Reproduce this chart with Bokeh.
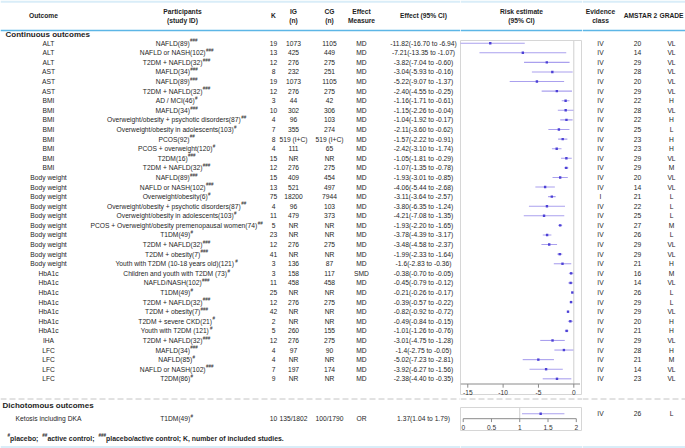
from bokeh.plotting import figure
from bokeh.layouts import row, column
from bokeh.models import Range1d
from bokeh.core.properties import value
from bokeh.embed import file_html
from bokeh.resources import INLINE

# ---------------- data ----------------
outcomes = (["ALT"] * 3 + ["AST"] * 3 + ["BMI"] * 8 + ["Body weight"] * 10 +
            ["HbA1c"] * 7 + ["IHA"] + ["LFC"] * 4)
participants = [
    "NAFLD(89)", "NAFLD or NASH(102)", "T2DM + NAFLD(32)",
    "MAFLD(34)", "NAFLD(89)", "T2DM + NAFLD(32)",
    "AD / MCI(46)", "MAFLD(34)", "Overweight/obesity + psychotic disorders(87)",
    "Overweight/obesity in adolescents(103)", "PCOS(92)", "PCOS + overweight(120)",
    "T2DM(16)", "T2DM + NAFLD(32)",
    "NAFLD(89)", "NAFLD or NASH(102)", "Overweight/obesity(6)",
    "Overweight/obesity + psychotic disorders(87)", "Overweight/obesity in adolescents(103)",
    "PCOS + Overweight/obesity premenopausal women(74)", "T1DM(49)", "T2DM + NAFLD(32)",
    "T2DM + obesity(7)", "Youth with T2DM (10-18 years old)(121)",
    "Children and youth with T2DM (73)", "NAFLD/NASH(102)", "T1DM(49)", "T2DM + NAFLD(32)",
    "T2DM + obesity(7)", "T2DM + severe CKD(21)", "Youth with T2DM (121)",
    "T2DM + NAFLD(32)",
    "MAFLD(34)", "NAFLD(85)", "NAFLD or NASH(102)", "T2DM(86)",
]
control_marks = [
    "###", "###", "###", "###", "###", "###",
    "#", "###", "##", "#", "##", "#", "###", "###",
    "###", "###", "#", "##", "#", "##", "#", "###", "###", "#",
    "#", "###", "#", "###", "###", "#", "#",
    "###",
    "###", "#", "###", "#",
]
k_vals = [19, 13, 12, 8, 19, 12, 3, 10, 4, 7, 8, 4, 15, 12, 15, 13, 75, 4, 11, 5,
          23, 12, 41, 3, 3, 11, 25, 12, 42, 2, 5, 12, 4, 4, 7, 9]
ig_n = ["1073", "425", "276", "232", "1073", "276", "44", "302", "96", "355", "519 (I+C)",
        "111", "NR", "276", "409", "521", "18200", "96", "479", "NR", "NR", "276", "NR",
        "136", "158", "458", "NR", "276", "NR", "NR", "260", "276", "97", "NR", "197", "NR"]
cg_n = ["1105", "449", "275", "251", "1105", "275", "42", "306", "103", "274", "519 (I+C)",
        "65", "NR", "275", "454", "497", "7944", "103", "373", "NR", "NR", "275", "NR",
        "87", "117", "458", "NR", "275", "NR", "NR", "155", "275", "90", "NR", "174", "NR"]
measures = ["MD"] * 24 + ["SMD"] + ["MD"] * 11
est = ["-11.82", "-7.21", "-3.82", "-3.04", "-5.22", "-2.40", "-1.16", "-1.15", "-1.04",
       "-2.11", "-1.57", "-2.42", "-1.05", "-1.07", "-1.93", "-4.06", "-3.11", "-3.80",
       "-4.21", "-1.93", "-3.78", "-3.48", "-1.99", "-1.6", "-0.38", "-0.45", "-0.21",
       "-0.39", "-0.82", "-0.49", "-1.01", "-3.01", "-1.4", "-5.02", "-3.92", "-2.38"]
lo = ["-16.70", "-13.35", "-7.04", "-5.93", "-9.07", "-4.55", "-1.71", "-2.26", "-1.92",
      "-3.60", "-2.22", "-3.10", "-1.81", "-1.35", "-3.01", "-5.44", "-3.64", "-6.35",
      "-7.08", "-2.20", "-4.39", "-4.58", "-2.33", "-2.83", "-0.70", "-0.79", "-0.26",
      "-0.57", "-0.92", "-0.84", "-1.26", "-4.75", "-2.75", "-7.23", "-6.27", "-4.40"]
hi = ["-6.94", "-1.07", "-0.60", "-0.16", "-1.37", "-0.25", "-0.61", "-0.04", "-0.17",
      "-0.62", "-0.91", "-1.74", "-0.29", "-0.78", "-0.85", "-2.68", "-2.57", "-1.24",
      "-1.35", "-1.65", "-3.17", "-2.37", "-1.64", "-0.36", "-0.05", "-0.12", "-0.17",
      "-0.22", "-0.72", "-0.15", "-0.76", "-1.28", "-0.05", "-2.81", "-1.56", "-0.35"]
evidence = ["IV"] * 16 + ["I"] + ["IV"] * 19
amstar = [20, 14, 29, 28, 20, 29, 22, 28, 22, 25, 23, 23, 29, 29, 20, 14, 21, 22, 25, 27,
          26, 29, 29, 21, 16, 14, 26, 29, 29, 20, 21, 29, 28, 21, 14, 23]
grade = ["VL", "VL", "VL", "VL", "VL", "VL", "H", "VL", "H", "L", "H", "H", "VL", "M",
         "VL", "VL", "L", "L", "L", "M", "L", "VL", "VL", "H", "M", "VL", "L", "L", "VL",
         "H", "H", "VL", "H", "M", "VL", "VL"]

dich_outcome = ["Ketosis including DKA"]
dich_participants = ["T1DM(49)"]
dich_marks = ["#"]
dich_k = [10]
dich_ig = ["135/1802"]
dich_cg = ["100/1790"]
dich_measure = ["OR"]
dich_est = ["1.37"]
dich_lo = ["1.04"]
dich_hi = ["1.79"]
dich_evidence = ["IV"]
dich_amstar = [26]
dich_grade = ["L"]

cont_ticks = [-15, -10, -5, 0]
dich_ticks = [0, 0.5, 1, 1.5, 2]

header_cols = ["Outcome", "Participants\n(study ID)", "K", "IG\n(n)", "CG\n(n)",
               "Effect\nMeasure", "Effect (95% CI)"]
right_headers = ["Evidence\nclass", "AMSTAR 2", "GRADE"]
footnote = [("#", True), (" placebo; ", False), ("##", True), (" active control; ", False),
            ("###", True), (" placebo/active control; K, number of included studies.", False)]

# ---------------- styling / layout ----------------
FONT = "Liberation Sans"
TXT = "#1e1e1e"
BLUE = "#5cb6e6"
BAND = "#d9edf8"
DASH = "#c4c4c4"
BOX = "#d6d6d6"
CI_COL = "#aaa0ee"
PT_COL = "#4c40d6"
FS = 6.7      # body font px
SUP = 4.5     # superscript px
ROW0 = 42.7
ROWH = 9.589
W, H = 685, 448
XL, XM = 460, 582          # left/mid and mid/right borders

REG = {" ": 278, "!": 278, "#": 556, "(": 333, ")": 333, "+": 584, ",": 278, "-": 333,
       ".": 278, "/": 278, ":": 278, ";": 278}
for ch in "0123456789":
    REG[ch] = 556
REG.update(dict(zip("ABCDEFGHIJKLMNOPQRSTUVWXYZ",
                    [667, 667, 722, 722, 667, 611, 778, 722, 278, 500, 667, 556, 833,
                     722, 778, 667, 778, 722, 667, 611, 722, 667, 944, 667, 667, 611])))
REG.update(dict(zip("abcdefghijklmnopqrstuvwxyz",
                    [556, 556, 500, 556, 556, 278, 556, 556, 222, 222, 500, 222, 833,
                     556, 556, 556, 556, 333, 500, 278, 556, 500, 722, 500, 500, 500])))
BLD = dict(REG)
BLD.update({";": 333, "K": 722})
BLD.update(dict(zip("abcdefghijklmnopqrstuvwxyz",
                    [556, 611, 556, 611, 556, 333, 611, 611, 278, 278, 556, 278, 889,
                     611, 611, 611, 611, 389, 556, 333, 611, 556, 778, 556, 556, 500])))


def tw(s, size, bold=False):
    tab = BLD if bold else REG
    return sum(tab.get(c, 556) for c in s) / 1000.0 * size


def mkfig(w, h, xr, yr, outline=None):
    p = figure(width=w, height=h, x_range=xr, y_range=yr, toolbar_location=None,
               output_backend="svg", x_axis_type=None, y_axis_type=None, min_border=0,
               background_fill_color="white", border_fill_color="white")
    p.outline_line_color = outline
    p.grid.visible = False
    return p


def txt(p, xs, ys, texts, size=FS, bold=False, align="center", color=TXT):
    p.text(x=xs, y=ys, text=texts, text_font=value(FONT),
           text_font_size=value(f"{size}px"),
           text_font_style="bold" if bold else "normal",
           text_align=align, text_baseline="middle", text_color=color)


def bands(p, x0, x1, top=True, bottom=True):
    if top:
        p.quad(left=[x0], right=[x1], top=[0], bottom=[2.2], fill_color=BAND, line_color=None)
    if bottom:
        p.quad(left=[x0], right=[x1], top=[445.5], bottom=[H], fill_color=BAND,
               line_color=None)


n = len(outcomes)
row_y = [ROW0 + ROWH * i for i in range(n)]

# ---------------- left table ----------------
L = mkfig(XL, H, Range1d(0, XL), Range1d(H, 0))
bands(L, 0, XL)
L.segment(x0=[0], y0=[30], x1=[XL], y1=[30], line_color=BLUE, line_width=1.3)
L.segment(x0=[0], y0=[398.5], x1=[XL], y1=[398.5], line_color=DASH, line_width=1,
          line_dash="6 3")

col_x = [43, 182, 273, 293, 329, 361, 423]
for cx, h in zip(col_x, header_cols):
    parts = h.split("\n")
    if len(parts) == 1:
        txt(L, [cx], [15.3], parts, bold=True)
    else:
        txt(L, [cx, cx], [11.2, 20.4], parts, bold=True)

txt(L, [5], [34.3], ["Continuous outcomes"], size=8, bold=True, align="left")
txt(L, [2], [405], ["Dichotomous outcomes"], size=8, bold=True, align="left")

OUT_X, PART_X = 48, 176
txt(L, [OUT_X] * n, row_y, outcomes)


def draw_participants(p, labels, marks, ys, cx):
    mx, sx, sy = [], [], []
    for lab, mk, y in zip(labels, marks, ys):
        wm = tw(lab, FS)
        total = wm + tw(mk, SUP)
        x0 = cx - total / 2
        mx.append(x0)
        sx.append(x0 + wm + 0.2)
        sy.append(y - 2.3)
    txt(p, mx, ys, labels, align="left")
    txt(p, sx, sy, marks, size=SUP, align="left")


draw_participants(L, participants, control_marks, row_y, PART_X)
txt(L, [273] * n, row_y, [str(k) for k in k_vals])
txt(L, [293] * n, row_y, ig_n)
txt(L, [329] * n, row_y, cg_n)
txt(L, [361] * n, row_y, measures)
txt(L, [423] * n, row_y, [f"{e}({a} to {b})" for e, a, b in zip(est, lo, hi)])

DY = 418.0
txt(L, [OUT_X], [DY], dich_outcome)
draw_participants(L, dich_participants, dich_marks, [DY], PART_X)
txt(L, [273], [DY], [str(k) for k in dich_k])
txt(L, [293], [DY], dich_ig)
txt(L, [329], [DY], dich_cg)
txt(L, [361], [DY], dich_measure)
txt(L, [423], [DY], [f"{e}({a} to {b})" for e, a, b in zip(dich_est, dich_lo, dich_hi)])

# footnote with superscript marks
FN = 6.9
FSUP = 4.6
fx = 7.0
fxs_m, fys_m, ftx_m, fxs_s, fys_s, ftx_s = [], [], [], [], [], []
for seg, is_sup in footnote:
    if is_sup:
        fxs_s.append(fx); fys_s.append(435.3); ftx_s.append(seg)
        fx += tw(seg, FSUP, True)
    else:
        fxs_m.append(fx); fys_m.append(437.7); ftx_m.append(seg)
        fx += tw(seg, FN, True)
txt(L, fxs_m, fys_m, ftx_m, size=FN, bold=True, align="left")
txt(L, fxs_s, fys_s, ftx_s, size=FSUP, bold=True, align="left")

# ---------------- middle (forest plots) ----------------
MW = XM - XL
top_mid = mkfig(MW, 40, Range1d(XL, XM), Range1d(40, 0))
bands(top_mid, XL, XM, bottom=False)
top_mid.segment(x0=[XL], y0=[30], x1=[XM], y1=[30], line_color=BLUE, line_width=1.3)
txt(top_mid, [521, 521], [11.2, 20.4], ["Risk estimate", "(95% CI)"], bold=True)

# continuous forest: y in row-index units
top_r = (40 - ROW0) / ROWH
bot_r = (395 - ROW0) / ROWH
axis_r = (383.5 - ROW0) / ROWH
tick_r = (387.2 - ROW0) / ROWH
lab_r = (391.8 - ROW0) / ROWH
F = mkfig(MW, 355, Range1d(-16.03, 1.23), Range1d(bot_r, top_r), outline=BOX)
idx = list(range(n))
F.segment(x0=[0], y0=[top_r], x1=[0], y1=[axis_r], line_color="#cfcfcf", line_width=1)
F.segment(x0=[float(v) for v in lo], y0=idx, x1=[float(v) for v in hi], y1=idx,
          line_color=CI_COL, line_width=1.1)
F.scatter(x=[float(v) for v in est], y=idx, marker="square", size=2.4,
          fill_color=PT_COL, line_color=None)
F.segment(x0=[F.x_range.start], y0=[axis_r], x1=[F.x_range.end - 0.35], y1=[axis_r],
          line_color="#8a8a8a", line_width=1)
F.segment(x0=cont_ticks, y0=[axis_r] * len(cont_ticks), x1=cont_ticks,
          y1=[tick_r] * len(cont_ticks), line_color="#8a8a8a", line_width=1)
txt(F, cont_ticks, [lab_r] * len(cont_ticks), [f"{t:g}" for t in cont_ticks],
    size=6.6, color="#333333")

gap_mid = mkfig(MW, 12, Range1d(XL, XM), Range1d(407, 395))
gap_mid.segment(x0=[XL], y0=[398.5], x1=[XM], y1=[398.5], line_color=DASH,
                line_width=1, line_dash="6 3")

# dichotomous forest
D0 = 413.3
d_top = (407 - D0) / ROWH
d_bot = (431 - D0) / ROWH
d_axis = (418.2 - D0) / ROWH
d_tick = (421.6 - D0) / ROWH
d_lab = (426.8 - D0) / ROWH
Dp = mkfig(MW, 24, Range1d(-0.048, 2.11), Range1d(d_bot, d_top), outline=BOX)
Dp.segment(x0=[1], y0=[d_top], x1=[1], y1=[d_axis], line_color="#cfcfcf", line_width=1)
Dp.segment(x0=[float(v) for v in dich_lo], y0=[0], x1=[float(v) for v in dich_hi], y1=[0],
           line_color=CI_COL, line_width=1.1)
Dp.scatter(x=[float(v) for v in dich_est], y=[0], marker="square", size=2.4,
           fill_color=PT_COL, line_color=None)
Dp.segment(x0=[dich_ticks[0]], y0=[d_axis], x1=[dich_ticks[-1]], y1=[d_axis],
           line_color="#8a8a8a", line_width=1)
Dp.segment(x0=dich_ticks, y0=[d_axis] * len(dich_ticks), x1=dich_ticks,
           y1=[d_tick] * len(dich_ticks), line_color="#8a8a8a", line_width=1)
txt(Dp, dich_ticks, [d_lab] * len(dich_ticks), [f"{t:g}" for t in dich_ticks],
    size=6.6, color="#333333")

bot_mid = mkfig(MW, H - 431, Range1d(XL, XM), Range1d(H, 431))
bands(bot_mid, XL, XM, top=False)

mid = column(top_mid, F, gap_mid, Dp, bot_mid, spacing=0)

# ---------------- right table ----------------
R = mkfig(W - XM, H, Range1d(XM, W), Range1d(H, 0))
bands(R, XM, W)
R.segment(x0=[XM], y0=[30], x1=[W], y1=[30], line_color=BLUE, line_width=1.3)
R.segment(x0=[XM], y0=[398.5], x1=[W], y1=[398.5], line_color=DASH, line_width=1,
          line_dash="6 3")
txt(R, [600, 600], [11.2, 20.4], right_headers[0].split("\n"), bold=True)
txt(R, [640], [15.3], [right_headers[1]], bold=True)
txt(R, [671], [15.3], [right_headers[2]], bold=True)
txt(R, [600] * n, row_y, evidence)
txt(R, [637] * n, row_y, [str(a) for a in amstar])
txt(R, [671] * n, row_y, grade)
txt(R, [600], [D0], dich_evidence)
txt(R, [637], [D0], [str(a) for a in dich_amstar])
txt(R, [671], [D0], dich_grade)

layout = row(L, mid, R, spacing=0)
open("out.html", "w").write(file_html(layout, INLINE))
